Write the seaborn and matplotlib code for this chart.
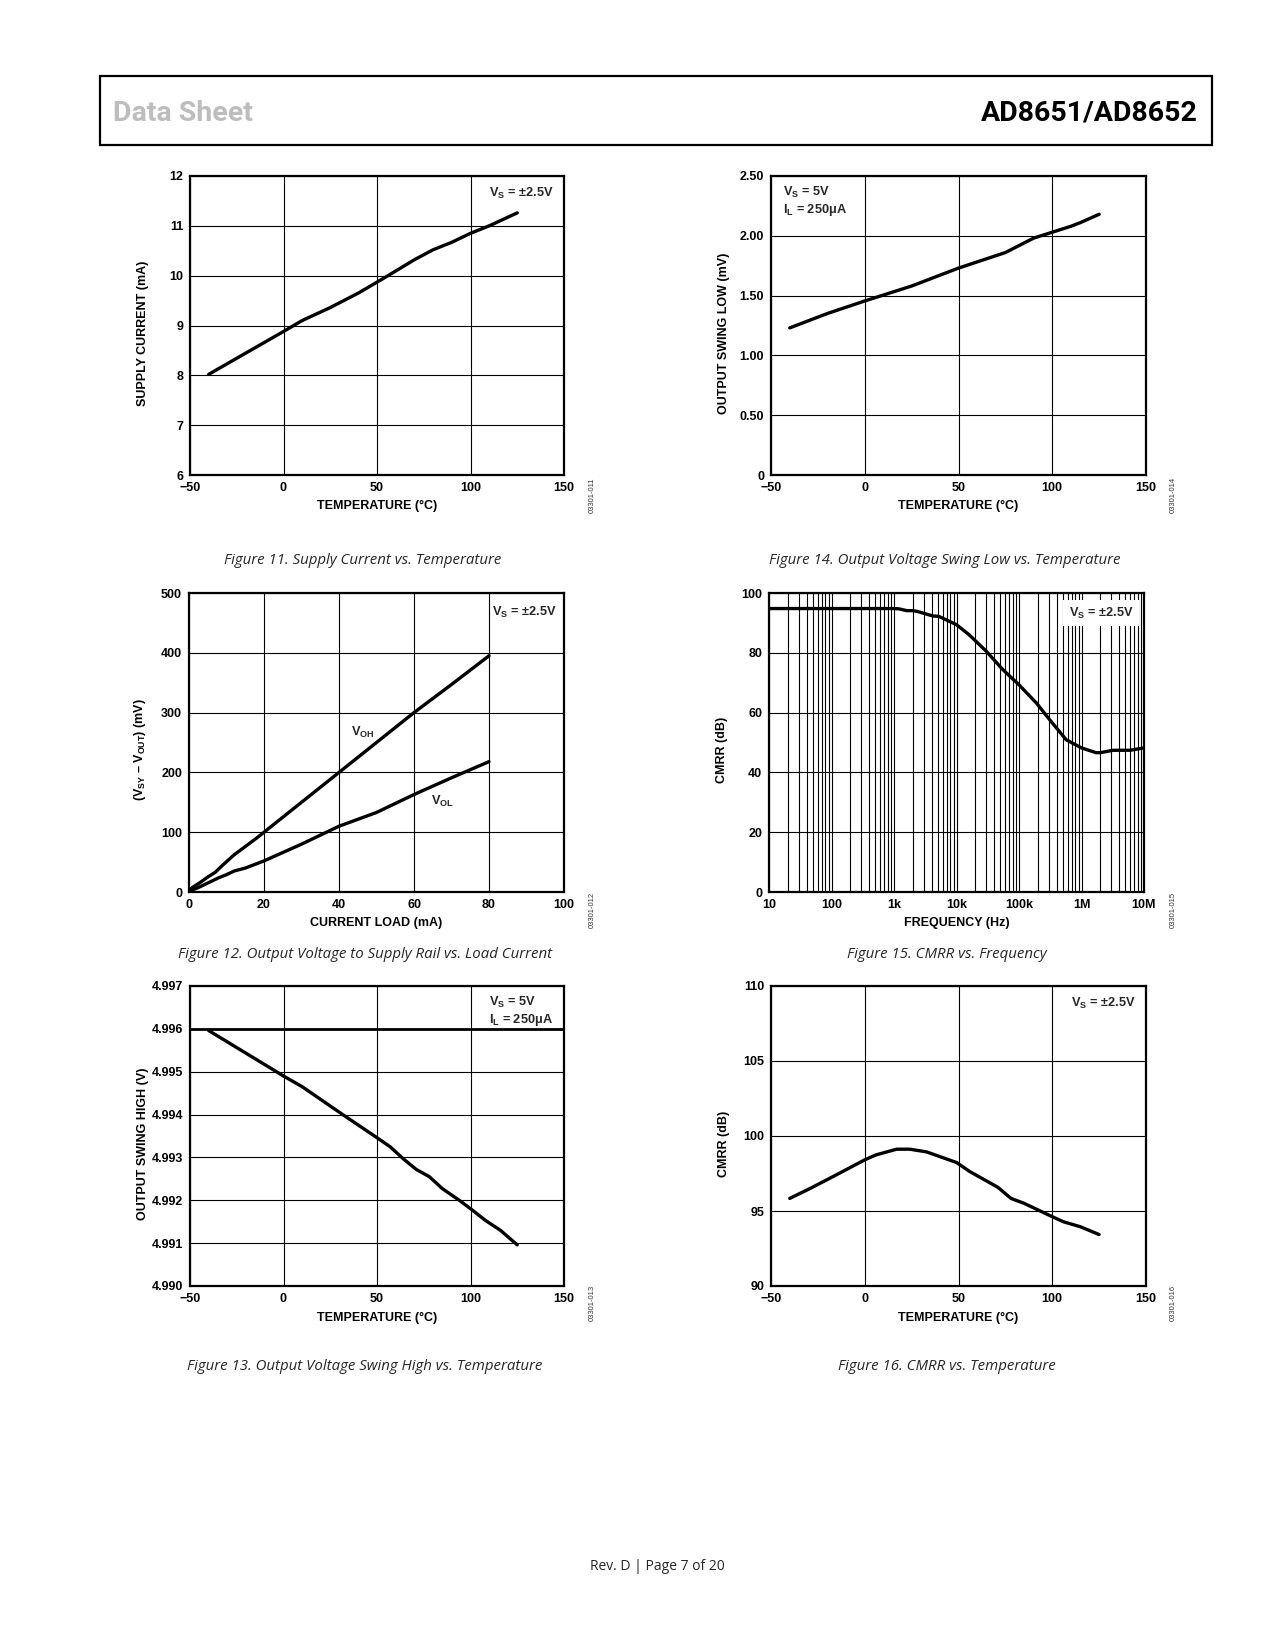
import numpy as np
import pandas as pd
import matplotlib
matplotlib.use('Agg')
import matplotlib.pyplot as plt
import seaborn as sns
from matplotlib.patches import Rectangle
from matplotlib.ticker import LogLocator, NullFormatter

# Figure 11: supply current vs temperature
t_fig11 = [-40, -20, 0, 10, 25, 40, 55, 70, 80, 90, 100, 110, 125]
i_supply = [8.02, 8.45, 8.88, 9.10, 9.36, 9.65, 9.98, 10.32, 10.52, 10.67, 10.85, 11.00, 11.26]

# Figure 14: output swing low vs temperature
t_fig14 = [-40, -20, 0, 25, 40, 50, 75, 90, 100, 110, 115, 125]
v_swing_low = [1.23, 1.35, 1.455, 1.58, 1.67, 1.73, 1.86, 1.98, 2.03, 2.08, 2.11, 2.18]

# Figure 12: output voltage to rail vs load current
load_voh = [0, 1, 3, 5, 7, 9, 12, 15, 18, 20, 30, 40, 50, 60, 70, 80]
voh = [3, 8, 16, 25, 33, 45, 62, 76, 90, 100, 150, 200, 250, 300, 347, 395]
load_vol = [0, 2, 4, 6, 8, 10, 12, 15, 20, 30, 40, 50, 60, 70, 80]
vol = [2, 6, 12, 18, 24, 29, 35, 40, 52, 80, 110, 133, 163, 191, 218]

# Figure 15: CMRR vs frequency
freq = [10, 100, 1000, 1200, 1600, 2000, 2400, 4200, 5200, 10000, 16000, 30000, 55000,
        100000, 190000, 310000, 570000, 1000000, 1700000, 2000000, 3200000, 6000000, 10000000]
cmrr_f = [94.8, 94.8, 94.8, 94.7, 94.1, 94.1, 93.8, 92.3, 92.2, 89.4, 86.0, 80.5, 74.4,
          69.3, 63.2, 57.6, 50.9, 48.2, 46.6, 46.6, 47.4, 47.4, 48.2]
freq_ticks = [10, 100, 1000, 10000, 100000, 1000000, 10000000]
freq_labels = ['10', '100', '1k', '10k', '100k', '1M', '10M']

# Figure 13: output swing high vs temperature
t_fig13 = [-40, 0, 10, 32, 50, 57, 64, 71, 78, 85, 94, 101, 108, 116, 125]
v_swing_high = [4.99596, 4.99490, 4.99465, 4.99399, 4.99346, 4.99325, 4.99297, 4.99272,
                4.99255, 4.99227, 4.99200, 4.99177, 4.99153, 4.99130, 4.99096]

# Figure 16: CMRR vs temperature
t_fig16 = [-40, -29, -17, 0, 6, 17, 24, 33, 49, 56, 71, 78, 85, 100, 106, 115, 125]
cmrr_t = [95.84, 96.51, 97.29, 98.41, 98.74, 99.12, 99.12, 98.94, 98.23, 97.63, 96.58,
          95.84, 95.51, 94.62, 94.28, 93.95, 93.43]

W, H = 1275, 1650
sns.set_theme(style='white')
plt.rcParams['font.family'] = ['Liberation Sans', 'DejaVu Sans']
plt.rcParams['mathtext.fontset'] = 'custom'
plt.rcParams['mathtext.rm'] = 'Liberation Sans:bold'
plt.rcParams['mathtext.it'] = 'Liberation Sans:bold'
plt.rcParams['mathtext.bf'] = 'Liberation Sans:bold'
plt.rcParams['mathtext.default'] = 'rm'

fig = plt.figure(figsize=(W / 100, H / 100), dpi=100)
fig.patch.set_facecolor('white')

LINE = dict(color='black', linewidth=2.4, estimator=None, sort=False)
TICK_FS = 9
LABEL_FS = 9
NOTE_FS = 9.2


def make_axes(left, right, top, bottom):
    return fig.add_axes([left / W, 1 - bottom / H, (right - left) / W, (bottom - top) / H])


def style_axes(ax, xlabel, ylabel):
    for sp in ax.spines.values():
        sp.set_visible(True)
        sp.set_color('black')
        sp.set_linewidth(1.6)
    ax.grid(True, color='black', linewidth=0.8)
    ax.tick_params(length=0, labelsize=TICK_FS, pad=5, colors='black')
    for lbl in ax.get_xticklabels() + ax.get_yticklabels():
        lbl.set_fontweight('bold')
    ax.set_xlabel(xlabel, fontsize=LABEL_FS, fontweight='bold', color='black')
    ax.set_ylabel(ylabel, fontsize=LABEL_FS, fontweight='bold', color='black')
    ax.xaxis.set_label_coords(0.5, -0.085)
    ax.yaxis.set_label_coords(-0.11, 0.475)
    ax.set_facecolor('white')


def note(ax, x, y, s, ha='right', va='center', box=False):
    kw = {}
    if box:
        kw['bbox'] = dict(facecolor='white', edgecolor='none', pad=4)
    ax.text(x, y, s, transform=ax.transAxes, ha=ha, va=va, fontsize=NOTE_FS,
            fontweight='bold', linespacing=1.2, **kw)


temp_ticks = [-50, 0, 50, 100, 150]
temp_label = 'TEMPERATURE (°C)'

# ---- Figure 11
ax = make_axes(190, 564, 176, 475)
sns.lineplot(data=pd.DataFrame({'t': t_fig11, 'i': i_supply}), x='t', y='i', ax=ax, **LINE)
ax.set_xlim(-50, 150)
ax.set_ylim(6, 12)
ax.set_xticks(temp_ticks)
ax.set_yticks([6, 7, 8, 9, 10, 11, 12])
style_axes(ax, temp_label, 'SUPPLY CURRENT (mA)')
note(ax, 0.972, 0.943, r'V$_{S}$ = ±2.5V')

# ---- Figure 14
ax = make_axes(771, 1146, 176, 475)
sns.lineplot(data=pd.DataFrame({'t': t_fig14, 'v': v_swing_low}), x='t', y='v', ax=ax, **LINE)
ax.set_xlim(-50, 150)
ax.set_ylim(0, 2.5)
ax.set_xticks(temp_ticks)
ax.set_yticks([0, 0.5, 1.0, 1.5, 2.0, 2.5])
ax.set_yticklabels(['0', '0.50', '1.00', '1.50', '2.00', '2.50'])
style_axes(ax, temp_label, 'OUTPUT SWING LOW (mV)')
note(ax, 0.032, 0.97, 'V$_{S}$ = 5V\nI$_{L}$ = 250μA', ha='left', va='top')

# ---- Figure 12
ax = make_axes(189, 564, 593, 892)
sns.lineplot(data=pd.DataFrame({'x': load_voh, 'y': voh}), x='x', y='y', ax=ax, **LINE)
sns.lineplot(data=pd.DataFrame({'x': load_vol, 'y': vol}), x='x', y='y', ax=ax, **LINE)
ax.set_xlim(0, 100)
ax.set_ylim(0, 500)
ax.set_xticks([0, 20, 40, 60, 80, 100])
ax.set_yticks([0, 100, 200, 300, 400, 500])
style_axes(ax, 'CURRENT LOAD (mA)', r'(V$_{SY}$ – V$_{OUT}$) (mV)')
note(ax, 0.981, 0.936, r'V$_{S}$ = ±2.5V')
ax.text(43.3, 266, 'V$_{OH}$', ha='left', va='center', fontsize=NOTE_FS, fontweight='bold')
ax.text(64.6, 152, 'V$_{OL}$', ha='left', va='center', fontsize=NOTE_FS, fontweight='bold')

# ---- Figure 15
ax = make_axes(769, 1144, 593, 892)
sns.lineplot(data=pd.DataFrame({'f': freq, 'c': cmrr_f}), x='f', y='c', ax=ax, **LINE)
ax.set_xscale('log')
ax.set_xlim(10, 1e7)
ax.set_ylim(0, 100)
ax.set_xticks(freq_ticks)
ax.set_xticklabels(freq_labels)
ax.xaxis.set_minor_locator(LogLocator(base=10, subs=np.arange(2, 10), numticks=20))
ax.xaxis.set_minor_formatter(NullFormatter())
ax.set_yticks([0, 20, 40, 60, 80, 100])
style_axes(ax, 'FREQUENCY (Hz)', 'CMRR (dB)')
ax.grid(True, which='minor', axis='x', color='black', linewidth=0.8)
ax.tick_params(which='minor', length=0)
note(ax, 0.971, 0.933, r'V$_{S}$ = ±2.5V', box=True)

# ---- Figure 13
ax = make_axes(190, 564, 986, 1286)
sns.lineplot(data=pd.DataFrame({'t': t_fig13, 'v': v_swing_high}), x='t', y='v', ax=ax, **LINE)
ax.set_xlim(-50, 150)
ax.set_ylim(4.990, 4.997)
ax.set_xticks(temp_ticks)
vh_ticks = [4.990, 4.991, 4.992, 4.993, 4.994, 4.995, 4.996, 4.997]
ax.set_yticks(vh_ticks)
ax.set_yticklabels(['%.3f' % v for v in vh_ticks])
style_axes(ax, temp_label, 'OUTPUT SWING HIGH (V)')
ax.get_ygridlines()[6].set_linewidth(2.0)
note(ax, 0.80, 0.97, 'V$_{S}$ = 5V\nI$_{L}$ = 250μA', ha='left', va='top')

# ---- Figure 16
ax = make_axes(771, 1146, 986, 1286)
sns.lineplot(data=pd.DataFrame({'t': t_fig16, 'c': cmrr_t}), x='t', y='c', ax=ax, **LINE)
ax.set_xlim(-50, 150)
ax.set_ylim(90, 110)
ax.set_xticks(temp_ticks)
ax.set_yticks([90, 95, 100, 105, 110])
style_axes(ax, temp_label, 'CMRR (dB)')
note(ax, 0.971, 0.943, r'V$_{S}$ = ±2.5V')

# captions
cap = dict(fontsize=10.8, style='italic', fontweight='normal', ha='center', va='center',
           family=['Open Sans', 'DejaVu Sans'])
fig.text(363 / W, 1 - 560 / H, 'Figure 11. Supply Current vs. Temperature', **cap)
fig.text(945 / W, 1 - 560 / H, 'Figure 14. Output Voltage Swing Low vs. Temperature', **cap)
fig.text(365 / W, 1 - 955 / H, 'Figure 12. Output Voltage to Supply Rail vs. Load Current', **cap)
fig.text(947 / W, 1 - 955 / H, 'Figure 15. CMRR vs. Frequency', **cap)
fig.text(365 / W, 1 - 1367 / H, 'Figure 13. Output Voltage Swing High vs. Temperature', **cap)
fig.text(947 / W, 1 - 1367 / H, 'Figure 16. CMRR vs. Temperature', **cap)

# figure ids
ids = [('03301-011', 592, 495), ('03301-014', 1173, 495), ('03301-012', 592, 910),
       ('03301-015', 1173, 910), ('03301-013', 592, 1303), ('03301-016', 1173, 1303)]
for txt, x, y in ids:
    fig.text(x / W, 1 - y / H, txt, rotation=90, fontsize=5.5, ha='center', va='center',
             color='#333333', fontweight='normal')

# header
fig.patches.append(Rectangle((100 / W, 1 - 145 / H), 1112 / W, 69 / H, transform=fig.transFigure,
                             fill=False, edgecolor='black', linewidth=1.6))
head = dict(fontsize=20.5, fontweight='bold', va='baseline',
            family=['Roboto', 'DejaVu Sans'])
fig.text(113 / W, 1 - 121 / H, 'Data Sheet', ha='left', color='#bdbdbd', **head)
fig.text(1198 / W, 1 - 121 / H, 'AD8651/AD8652', ha='right', color='black', **head)

# footer
fig.text(657 / W, 1 - 1566 / H, 'Rev. D | Page 7 of 20', ha='center', va='center', fontsize=10,
         fontweight='normal', family=['Open Sans', 'DejaVu Sans'])

fig.savefig('out.png', dpi=100, facecolor='white')
